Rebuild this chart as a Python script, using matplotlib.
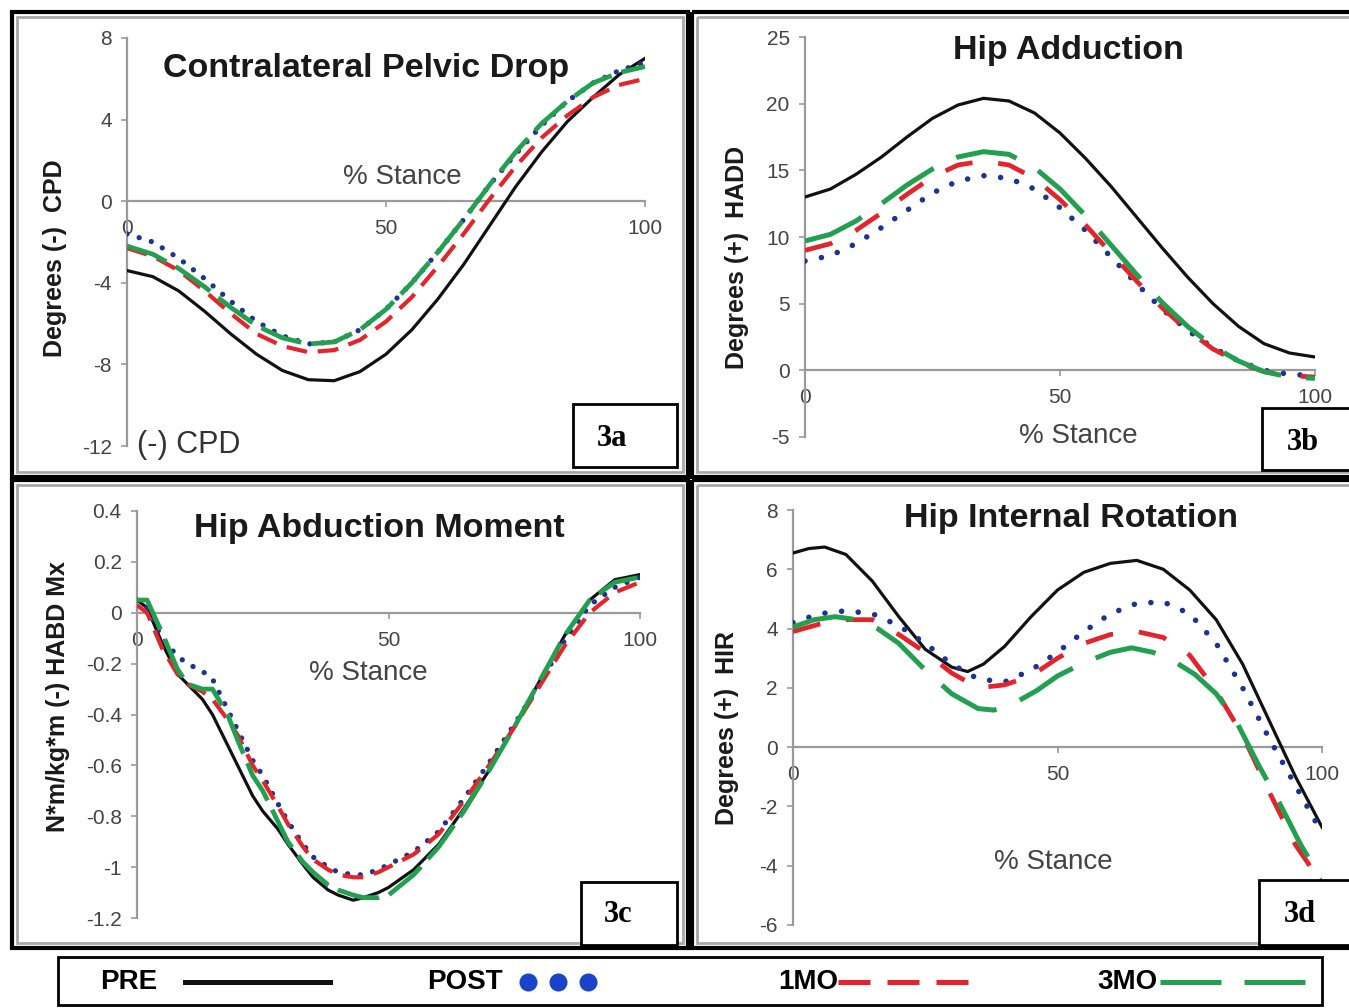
import matplotlib
matplotlib.use('Agg')
import matplotlib.pyplot as plt
from matplotlib.patches import Rectangle
from matplotlib.lines import Line2D

plt.rcParams['font.family'] = ['Liberation Sans', 'DejaVu Sans']

# ---------------- data ----------------
x5 = [0, 5, 10, 15, 20, 25, 30, 35, 40, 45, 50, 55, 60, 65, 70, 75, 80, 85, 90, 95, 100]

# 3a Contralateral pelvic drop
cpd_pre = [-3.4, -3.7, -4.4, -5.4, -6.5, -7.5, -8.3, -8.75, -8.8, -8.35, -7.5, -6.3, -4.8, -3.1, -1.2, 0.7, 2.4, 3.9, 5.1, 6.2, 7.0]
cpd_post = [-1.6, -2.0, -2.8, -3.8, -4.9, -5.9, -6.6, -7.0, -6.9, -6.3, -5.3, -4.0, -2.5, -0.9, 0.8, 2.3, 3.7, 4.9, 5.8, 6.4, 6.8]
cpd_1mo = [-2.3, -2.7, -3.4, -4.4, -5.5, -6.5, -7.1, -7.4, -7.3, -6.8, -5.9, -4.7, -3.2, -1.6, 0.1, 1.7, 3.1, 4.2, 5.1, 5.7, 6.0]
cpd_3mo = [-2.2, -2.6, -3.3, -4.2, -5.2, -6.1, -6.7, -7.0, -6.9, -6.3, -5.3, -4.0, -2.5, -0.9, 0.8, 2.4, 3.8, 4.9, 5.8, 6.3, 6.6]

# 3b Hip adduction
hadd_pre = [13.0, 13.6, 14.7, 16.0, 17.5, 18.9, 19.9, 20.4, 20.2, 19.3, 17.8, 15.9, 13.8, 11.5, 9.2, 7.0, 5.0, 3.3, 2.0, 1.3, 1.0]
hadd_post = [8.2, 8.6, 9.5, 10.7, 12.0, 13.3, 14.2, 14.6, 14.4, 13.6, 12.2, 10.5, 8.5, 6.5, 4.6, 3.0, 1.7, 0.7, 0.0, -0.3, -0.4]
hadd_1mo = [9.0, 9.5, 10.5, 11.8, 13.2, 14.5, 15.4, 15.7, 15.4, 14.4, 12.8, 10.9, 8.8, 6.7, 4.7, 3.0, 1.6, 0.6, -0.1, -0.4, -0.5]
hadd_3mo = [9.7, 10.2, 11.2, 12.5, 13.9, 15.1, 16.0, 16.4, 16.2, 15.2, 13.6, 11.6, 9.4, 7.2, 5.1, 3.3, 1.8, 0.7, -0.1, -0.5, -0.6]

# 3c Hip abduction moment
xc = [0, 2, 5, 8, 10, 13, 15, 18, 20, 23, 25, 28, 30, 33, 35, 38, 40, 43, 45, 48, 50, 55, 60, 65, 70, 75, 80, 85, 90, 95, 100]
habd_pre = [0.05, 0.02, -0.12, -0.24, -0.28, -0.34, -0.40, -0.52, -0.60, -0.72, -0.78, -0.85, -0.91, -0.99, -1.04, -1.09, -1.11, -1.13, -1.12, -1.10, -1.08, -1.01, -0.91, -0.77, -0.62, -0.45, -0.27, -0.09, 0.05, 0.13, 0.15]
habd_post = [0.05, 0.02, -0.10, -0.17, -0.20, -0.23, -0.26, -0.38, -0.46, -0.58, -0.64, -0.75, -0.82, -0.91, -0.96, -1.00, -1.02, -1.03, -1.03, -1.01, -0.99, -0.94, -0.86, -0.73, -0.59, -0.44, -0.28, -0.11, 0.03, 0.10, 0.14]
habd_1mo = [0.03, 0.0, -0.14, -0.24, -0.28, -0.31, -0.34, -0.42, -0.48, -0.60, -0.66, -0.76, -0.83, -0.92, -0.97, -1.01, -1.03, -1.04, -1.04, -1.02, -1.00, -0.95, -0.87, -0.74, -0.60, -0.45, -0.29, -0.13, 0.0, 0.08, 0.12]
habd_3mo = [0.05, 0.05, -0.08, -0.22, -0.28, -0.30, -0.30, -0.40, -0.50, -0.64, -0.70, -0.82, -0.90, -0.98, -1.02, -1.07, -1.09, -1.11, -1.12, -1.12, -1.11, -1.03, -0.92, -0.78, -0.62, -0.45, -0.27, -0.09, 0.05, 0.12, 0.14]

# 3d Hip internal rotation
xd_pre = [0, 3, 6, 10, 15, 20, 25, 30, 33, 36, 40, 45, 50, 55, 60, 65, 70, 75, 80, 85, 90, 95, 100]
hir_pre = [6.55, 6.7, 6.75, 6.5, 5.6, 4.4, 3.3, 2.7, 2.55, 2.8, 3.4, 4.4, 5.3, 5.9, 6.2, 6.3, 6.0, 5.3, 4.3, 2.8, 0.9, -1.0, -2.7]
hir_post = [4.2, 4.5, 4.6, 4.5, 4.1, 3.5, 2.8, 2.3, 2.2, 2.6, 3.2, 3.9, 4.5, 4.85, 4.9, 4.5, 3.5, 2.0, 0.3, -1.3, -2.9]
hir_1mo = [3.9, 4.15, 4.3, 4.3, 3.8, 3.2, 2.5, 2.0, 2.1, 2.4, 3.0, 3.5, 3.8, 3.9, 3.7, 3.1, 1.9, 0.4, -1.5, -3.3, -4.6]
xd_3mo = [0, 4, 8, 12, 16, 20, 25, 30, 35, 38, 42, 46, 50, 55, 60, 64, 68, 72, 76, 80, 84, 88, 92, 96, 100]
hir_3mo = [4.05, 4.3, 4.4, 4.3, 4.0, 3.5, 2.6, 1.8, 1.3, 1.25, 1.5, 1.9, 2.4, 2.85, 3.2, 3.35, 3.2, 2.9, 2.45, 1.8, 0.8, -0.6, -1.9, -3.3, -4.5]

x_ticks = [0, 50, 100]
x_ticklabels = ['0', '50', '100']
yt_a = [-12, -8, -4, 0, 4, 8]
yt_b = [-5, 0, 5, 10, 15, 20, 25]
yt_c = [-1.2, -1.0, -0.8, -0.6, -0.4, -0.2, 0.0, 0.2, 0.4]
yl_c = ['-1.2', '-1', '-0.8', '-0.6', '-0.4', '-0.2', '0', '0.2', '0.4']
yt_d = [-6, -4, -2, 0, 2, 4, 6, 8]

titles = ['Contralateral Pelvic Drop', 'Hip Adduction', 'Hip Abduction Moment', 'Hip Internal Rotation']
ylabels = ['Degrees (-)  CPD', 'Degrees (+)  HADD', 'N*m/kg*m (-) HABD Mx', 'Degrees (+)  HIR']
panel_tags = ['3a', '3b', '3c', '3d']
series_names = ['PRE', 'POST', '1MO', '3MO']

# ---------------- styles ----------------
C_PRE = '#111111'
C_POST = '#1f3290'
C_1MO = '#e3242b'
C_3MO = '#22a04f'
GRAY = '#9a9a9a'
TXT = '#444444'

DENSE = dict(post=(3.8, (0, (0.01, 2.4))), m1=(3.0, (0, (5, 2.6))), m3=(3.4, (0, (9, 2.2))))
SPARSE = dict(post=(4.0, (0, (0.01, 3.0))), m1=(3.4, (0, (6, 5.5))), m3=(3.6, (0, (12.4, 5))))

W, H = 1349, 1008
fig = plt.figure(figsize=(W / 100, H / 100), dpi=100)

# background overlay (pixel coordinates)
bg = fig.add_axes([0, 0, 1, 1], zorder=0)
bg.set_xlim(0, W)
bg.set_ylim(H, 0)
bg.axis('off')

# panel frames
for (x0, y0, w, h) in [(12, 12, 676, 465), (692, 12, 690, 465), (12, 480, 676, 468), (692, 480, 690, 468)]:
    bg.add_patch(Rectangle((x0, y0), w, h, fill=False, ec='black', lw=3))
    bg.add_patch(Rectangle((x0 + 5, y0 + 5), w - 10, h - 10, fill=False, ec='#a8a8a8', lw=2))


def px_axes(x0, x1, ytop, ybot):
    ax = fig.add_axes([x0 / W, 1 - ybot / H, (x1 - x0) / W, (ybot - ytop) / H], zorder=2)
    ax.patch.set_alpha(0)
    return ax


def setup(ax, ylim, yticks, ylabs=None):
    ax.set_xlim(0, 100)
    ax.set_ylim(*ylim)
    for s in ['top', 'right']:
        ax.spines[s].set_visible(False)
    ax.spines['bottom'].set_position(('data', 0))
    for s in ['bottom', 'left']:
        ax.spines[s].set_color(GRAY)
        ax.spines[s].set_linewidth(1.6)
    ax.set_xticks(x_ticks)
    ax.set_xticklabels(x_ticklabels)
    ax.set_yticks(yticks)
    if ylabs is not None:
        ax.set_yticklabels(ylabs)
    else:
        ax.set_yticklabels([str(v) for v in yticks])
    ax.tick_params(axis='x', direction='out', length=4, width=1.2, color=GRAY,
                   pad=9, labelsize=15, labelcolor=TXT)
    ax.tick_params(axis='y', direction='out', length=4, width=1.2, color=GRAY,
                   pad=7, labelsize=15, labelcolor=TXT)


def draw(ax, style, xs, pre, post, m1, m3, xpre=None, x3=None):
    ax.plot(xpre if xpre else xs, pre, color=C_PRE, lw=2.3, zorder=3)
    lw, ls = style['post']
    ax.plot(xs, post, color=C_POST, lw=lw, linestyle=ls, dash_capstyle='round', zorder=4)
    lw, ls = style['m1']
    ax.plot(xs, m1, color=C_1MO, lw=lw, linestyle=ls, zorder=5)
    lw, ls = style['m3']
    ax.plot(x3 if x3 else xs, m3, color=C_3MO, lw=lw, linestyle=ls, zorder=6)


axa = px_axes(127, 645, 38, 446)
setup(axa, (-12, 8), yt_a)
draw(axa, DENSE, x5, cpd_pre, cpd_post, cpd_1mo, cpd_3mo)

axb = px_axes(805, 1315, 37, 437)
setup(axb, (-5, 25), yt_b)
draw(axb, SPARSE, x5, hadd_pre, hadd_post, hadd_1mo, hadd_3mo)

axc = px_axes(137, 640, 511, 918)
setup(axc, (-1.2, 0.4), yt_c, yl_c)
draw(axc, DENSE, xc, habd_pre, habd_post, habd_1mo, habd_3mo)

axd = px_axes(793, 1322, 510, 925)
setup(axd, (-6, 8), yt_d)
draw(axd, SPARSE, x5, hir_pre, hir_post, hir_1mo, hir_3mo, xpre=xd_pre, x3=xd_3mo)

# texts in pixel coordinates
title_pos = [(366, 68), (1068, 50), (379, 528), (1071, 518)]
for t, (x, y) in zip(titles, title_pos):
    bg.text(x, y, t, ha='center', va='center', fontsize=24.5, fontweight='bold', color='#1a1a1a')

ylab_pos = [(55, 258), (737, 257), (58, 697), (727, 728)]
for t, (x, y) in zip(ylabels, ylab_pos):
    bg.text(x, y, t, ha='center', va='center', rotation=90, fontsize=18,
            fontweight='bold', color='#1a1a1a')

stance_pos = [(402, 177), (1078, 436), (368, 673), (1053, 862)]
for (x, y) in stance_pos:
    bg.text(x, y, '% Stance', ha='center', va='center', fontsize=20, color=TXT)

bg.text(137, 445, '(-) CPD', ha='left', va='center', fontsize=22, color='#333333')

# top overlay for tag boxes and legend
top = fig.add_axes([0, 0, 1, 1], zorder=5)
top.set_xlim(0, W)
top.set_ylim(H, 0)
top.axis('off')
top.patch.set_alpha(0)

tag_boxes = [(573, 404, 104, 63), (1262, 408, 100, 62), (581, 882, 96, 63), (1259, 880, 100, 65)]
tag_text = [(612, 438), (1303, 442), (618, 914), (1300, 914)]
for tag, (x0, y0, w, h), (tx, ty) in zip(panel_tags, tag_boxes, tag_text):
    top.add_patch(Rectangle((x0, y0), w, h, fc='white', ec='black', lw=2))
    top.text(tx, ty, tag, ha='center', va='center', fontsize=22, fontweight='bold',
             family=['Liberation Serif', 'DejaVu Serif'], color='black')

# legend
top.add_patch(Rectangle((58, 957), 1264, 48, fc='white', ec='black', lw=2))
ly = 982
top.text(100, ly, series_names[0], ha='left', va='center', fontsize=20, fontweight='bold')
top.add_line(Line2D([185, 330], [ly, ly], color=C_PRE, lw=3.6))
top.text(427, ly, series_names[1], ha='left', va='center', fontsize=20, fontweight='bold')
top.add_line(Line2D([528, 558, 588], [ly, ly, ly], color='#1a44c8', lw=0, marker='o',
                    markersize=13, markeredgewidth=0))
top.text(778, ly, series_names[2], ha='left', va='center', fontsize=20, fontweight='bold')
top.add_line(Line2D([838, 968], [ly, ly], color=C_1MO, lw=3.6, linestyle=(0, (6.4, 3.4))))
top.text(1097, ly, series_names[3], ha='left', va='center', fontsize=20, fontweight='bold')
top.add_line(Line2D([1160, 1305], [ly, ly], color=C_3MO, lw=3.6, linestyle=(0, (12.2, 4.6))))

fig.savefig('out.png', dpi=100)
